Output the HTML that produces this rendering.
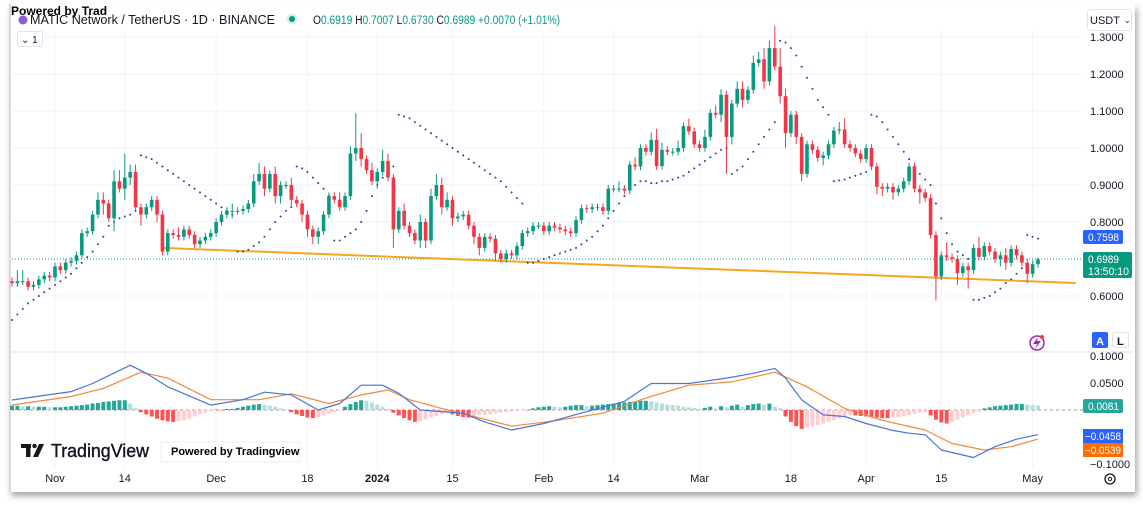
<!DOCTYPE html>
<html><head><meta charset="utf-8">
<style>
html,body{margin:0;padding:0;background:#fff;}
body{width:1143px;height:508px;position:relative;overflow:hidden;font-family:"Liberation Sans",sans-serif;}
#frame{position:absolute;left:9px;top:4px;width:1124px;height:488px;background:#fff;box-shadow:2px 4px 6px rgba(0,0,0,0.35);border-left:2px solid #d8dae0;}
svg{position:absolute;left:0;top:0;}
.t{font-family:"Liberation Sans",sans-serif;}
</style></head>
<body>
<div id="frame"></div>
<svg id="chart" width="1143" height="508" viewBox="0 0 1143 508">
  <g id="grid"></g>
  <line x1="10" y1="352" x2="1133" y2="352" stroke="#e0e3eb" stroke-width="1"/>
  <line x1="12" y1="259" x2="1083" y2="259" stroke="#089981" stroke-width="1" stroke-dasharray="1,2"/>
  <line x1="12" y1="410" x2="1083" y2="410" stroke="#9598a1" stroke-width="1" stroke-dasharray="3,3"/>
  <g id="trend"></g>
  <g id="sar"></g>
  <g id="candles"></g>
  <g id="hist"></g>
  <g id="macdlines"></g>
  <g id="axes"></g>

  <!-- header -->
  <text x="11" y="15" font-size="12" font-weight="bold" fill="#000" class="t">Powered by Trad</text>
  <circle cx="23" cy="20" r="4.5" fill="#8e5bd8"/>
  <text x="30" y="24" font-size="12.5" fill="#131722" class="t" textLength="245" lengthAdjust="spacingAndGlyphs">MATIC Network / TetherUS · 1D · BINANCE</text>
  <circle cx="292" cy="19" r="5.5" fill="#d7efe9"/>
  <circle cx="292" cy="19" r="3" fill="#089981"/>
  <text x="313" y="24" font-size="11.5" fill="#089981" class="t" textLength="247" lengthAdjust="spacingAndGlyphs"><tspan fill="#131722">O</tspan>0.6919 <tspan fill="#131722">H</tspan>0.7007 <tspan fill="#131722">L</tspan>0.6730 <tspan fill="#131722">C</tspan>0.6989 +0.0070 (+1.01%)</text>
  <rect x="17.5" y="31.5" width="25" height="15" rx="2" fill="#fff" stroke="#e0e3eb"/>
  <text x="21" y="43" font-size="10" fill="#131722" class="t">⌄ 1</text>
  <rect x="1087.5" y="9.5" width="44" height="21" rx="3" fill="#fff" stroke="#e0e3eb"/>
  <text x="1090" y="24" font-size="11" fill="#131722" class="t">USDT</text>
  <text x="1124" y="23" font-size="8" fill="#131722" class="t">⌄</text>

  <!-- price labels -->
  <rect x="1083" y="230" width="40" height="14" rx="2" fill="#2962ff"/>
  <text x="1088" y="241" font-size="11" fill="#fff" class="t" textLength="31" lengthAdjust="spacingAndGlyphs">0.7598</text>
  <rect x="1083" y="252" width="49" height="26" rx="2" fill="#089981"/>
  <text x="1088" y="263" font-size="11" fill="#fff" class="t" textLength="31" lengthAdjust="spacingAndGlyphs">0.6989</text>
  <text x="1088" y="275" font-size="11" fill="#fff" class="t" textLength="41" lengthAdjust="spacingAndGlyphs">13:50:10</text>

  <rect x="1083" y="399" width="40" height="14" rx="2" fill="#26a69a"/>
  <text x="1088" y="410" font-size="11" fill="#fff" class="t" textLength="31" lengthAdjust="spacingAndGlyphs">0.0081</text>
  <rect x="1083" y="429" width="40" height="14" fill="#2962ff"/>
  <text x="1085" y="440" font-size="11" fill="#fff" class="t" textLength="36" lengthAdjust="spacingAndGlyphs">−0.0458</text>
  <rect x="1083" y="443" width="40" height="14" fill="#ff6d00"/>
  <text x="1085" y="454" font-size="11" fill="#fff" class="t" textLength="36" lengthAdjust="spacingAndGlyphs">−0.0539</text>

  <rect x="1092" y="332" width="16" height="16" rx="2" fill="#2962ff"/>
  <text x="1096" y="345" font-size="11" font-weight="bold" fill="#fff" class="t">A</text>
  <rect x="1112.5" y="332.5" width="16" height="15" rx="2" fill="#fff" stroke="#e0e3eb"/>
  <text x="1117" y="345" font-size="11" font-weight="bold" fill="#131722" class="t">L</text>
  <circle cx="1037" cy="343" r="7" fill="none" stroke="#9c27b0" stroke-width="1.5"/>
  <polygon points="1038,337 1033,344 1037,344 1035,349 1041,341 1037,341" fill="#9c27b0"/>
  <circle cx="1042" cy="337" r="2" fill="#f23645"/>

  <!-- logo -->
  <rect x="21" y="444" width="10" height="4" fill="#131722"/>
  <rect x="26" y="444" width="4.5" height="13" fill="#131722"/>
  <circle cx="34.5" cy="446" r="2.2" fill="#131722"/>
  <polygon points="39,444 44,444 38,457 33,457" fill="#131722"/>
  <text x="51" y="457" font-size="18" fill="#131722" stroke="#131722" stroke-width="0.4" class="t" textLength="98" lengthAdjust="spacingAndGlyphs">TradingView</text>
  <rect x="161" y="442" width="139" height="20" fill="#fff" stroke="#e0e3eb" stroke-width="0.6"/>
  <text x="171" y="455" font-size="11" font-weight="bold" fill="#000" class="t">Powered by Tradingview</text>

  <circle cx="1110" cy="479" r="5" fill="none" stroke="#131722" stroke-width="1.3"/>
  <circle cx="1110" cy="479" r="1.6" fill="none" stroke="#131722" stroke-width="1"/>
</svg>
<script>
// ---- price data (daily, Oct 24 2023 - May 2 2024) ----
const closes = [
0.635,0.64,0.64,0.625,0.63,0.645,0.655,0.65,0.68,0.67,
0.69,0.695,0.71,0.77,0.775,0.82,0.86,0.85,0.81,0.91,
0.89,0.92,0.935,0.84,0.82,0.84,0.86,0.82,0.72,0.77,
0.765,0.76,0.78,0.765,0.74,0.75,0.76,0.77,0.80,0.82,
0.83,0.83,0.83,0.835,0.85,0.91,0.93,0.89,0.93,0.87,
0.90,0.90,0.86,0.85,0.82,0.78,0.76,0.775,0.82,0.87,
0.86,0.84,0.87,0.985,1.00,0.97,0.94,0.91,0.935,0.965,
0.92,0.78,0.83,0.79,0.77,0.75,0.80,0.75,0.87,0.90,
0.84,0.86,0.81,0.815,0.82,0.79,0.76,0.73,0.76,0.755,
0.715,0.70,0.715,0.71,0.735,0.77,0.775,0.79,0.79,0.775,
0.79,0.785,0.78,
0.775,0.77,0.805,0.837,0.835,0.84,0.84,0.83,0.89,0.89,
0.89,0.885,0.955,0.95,1.00,0.99,1.022,0.951,0.995,0.99,
0.99,1.00,1.059,1.045,1.01,1.00,1.03,1.095,1.09,1.144,
1.03,1.12,1.16,1.13,1.157,1.23,1.24,1.18,1.27,1.22,
1.14,1.04,1.09,1.03,0.93,1.01,0.995,0.973,0.98,1.01,
1.047,1.05,1.01,1.00,0.985,0.97,1.00,0.95,0.895,0.89,
0.895,0.88,0.89,0.91,0.95,0.89,0.88,0.865,0.765,0.653,
0.71,0.705,0.70,0.662,0.68,0.67,0.73,0.706,0.735,0.72,
0.70,0.71,0.69,0.727,0.71,0.69,0.66,0.686,0.6989];
const firstOpen = 0.64;
// wick extensions beyond the body (price units)
const wickUp = [
0.01,0.03,0.03,0.01,0.01,0.01,0.01,0.01,0.01,0.01,
0.01,0.01,0.01,0.01,0.01,0.01,0.02,0.02,0.01,0.03,
0.03,0.065,0.02,0.02,0.01,0.01,0.01,0.01,0.01,0.01,
0.01,0.02,0.01,0.01,0.01,0.01,0.01,0.01,0.01,0.01,
0.01,0.02,0.01,0.01,0.01,0.02,0.03,0.02,0.01,0.02,
0.01,0.01,0.02,0.01,0.01,0.01,0.01,0.01,0.01,0.01,
0.01,0.02,0.01,0.02,0.094,0.04,0.01,0.02,0.01,0.03,
0.02,0.01,0.01,0.02,0.01,0.01,0.02,0.01,0.02,0.03,
0.02,0.02,0.01,0.01,0.01,0.01,0.01,0.01,0.01,0.01,
0.01,0.01,0.01,0.01,0.01,0.01,0.01,0.01,0.01,0.01,
0.01,0.01,0.01,
0.01,0.01,0.01,0.01,0.01,0.01,0.01,0.01,0.01,0.01,
0.02,0.01,0.01,0.02,0.01,0.01,0.02,0.03,0.02,0.01,
0.01,0.02,0.01,0.02,0.01,0.01,0.02,0.01,0.02,0.015,
0.01,0.01,0.02,0.02,0.01,0.02,0.02,0.03,0.02,0.06,
0.05,0.02,0.01,0.01,0.01,0.01,0.01,0.01,0.01,0.01,
0.01,0.02,0.03,0.01,0.01,0.01,0.01,0.01,0.01,0.01,
0.01,0.01,0.01,0.01,0.01,0.01,0.01,0.01,0.01,0.01,
0.01,0.035,0.01,0.01,0.01,0.01,0.01,0.03,0.01,0.01,
0.01,0.01,0.02,0.01,0.01,0.01,0.01,0.01,0.005];
const wickDn = [
0.01,0.01,0.01,0.01,0.01,0.01,0.01,0.01,0.01,0.01,
0.01,0.01,0.01,0.01,0.01,0.01,0.01,0.03,0.01,0.035,
0.01,0.03,0.02,0.01,0.03,0.01,0.01,0.02,0.01,0.01,
0.01,0.01,0.01,0.01,0.01,0.01,0.01,0.01,0.01,0.01,
0.01,0.02,0.01,0.01,0.01,0.01,0.01,0.02,0.01,0.02,
0.02,0.01,0.02,0.01,0.02,0.02,0.02,0.02,0.01,0.01,
0.01,0.01,0.01,0.01,0.02,0.02,0.01,0.01,0.02,0.01,
0.01,0.05,0.01,0.01,0.01,0.01,0.02,0.02,0.01,0.01,
0.02,0.01,0.02,0.01,0.01,0.01,0.02,0.02,0.01,0.01,
0.02,0.01,0.01,0.01,0.01,0.01,0.01,0.01,0.01,0.01,
0.01,0.01,0.01,
0.01,0.01,0.01,0.01,0.01,0.01,0.01,0.01,0.01,0.01,
0.01,0.01,0.01,0.01,0.01,0.01,0.01,0.01,0.01,0.01,
0.01,0.01,0.01,0.01,0.01,0.01,0.01,0.01,0.01,0.02,
0.10,0.02,0.01,0.02,0.01,0.01,0.01,0.02,0.01,0.01,
0.02,0.04,0.01,0.02,0.02,0.01,0.01,0.01,0.02,0.01,
0.01,0.01,0.01,0.01,0.01,0.01,0.01,0.01,0.02,0.02,
0.01,0.02,0.01,0.01,0.01,0.01,0.03,0.01,0.01,0.065,
0.01,0.01,0.01,0.032,0.01,0.05,0.01,0.01,0.01,0.01,
0.01,0.02,0.02,0.01,0.01,0.01,0.025,0.01,0.01];
// Parabolic SAR per candle
const sarVals = [
0.535,0.55,0.565,0.58,0.59,0.60,0.61,0.62,0.63,0.64,0.65,0.66,0.675,0.69,0.705,0.72,0.74,0.76,0.79,0.80,0.81,0.815,0.82,0.83,
0.98,0.975,0.97,0.96,0.95,0.94,0.93,0.92,0.91,0.90,0.89,0.88,0.87,0.86,0.85,0.84,0.83,0.82,
0.72,0.72,0.725,0.735,0.745,0.76,0.78,0.80,0.815,0.83,0.84,
0.95,0.945,0.935,0.92,0.905,0.89,0.87,
0.75,0.75,0.76,0.77,0.78,0.80,0.83,0.87,0.90,0.92,0.94,0.95,
1.09,1.085,1.08,1.07,1.06,1.05,1.04,1.03,1.02,1.01,1.00,0.99,0.98,0.97,0.96,0.95,0.94,0.93,0.92,0.91,0.895,0.88,0.865,0.85,
0.69,0.69,0.695,0.70,0.705,0.71,0.715,
0.72,0.725,0.73,0.74,0.75,0.76,0.775,0.79,0.81,0.83,0.85,0.87,0.89,0.90,0.91,0.91,
0.905,0.905,0.91,0.91,0.915,0.92,0.925,0.935,0.945,0.955,0.965,0.975,0.985,0.995,1.0,
0.93,0.94,0.95,0.97,0.99,1.01,1.03,1.05,1.07,
1.29,1.285,1.27,1.25,1.22,1.19,1.16,1.13,1.11,1.09,
0.91,0.912,0.915,0.92,0.925,0.93,0.935,
1.09,1.085,1.07,1.05,1.03,1.01,0.99,0.97,0.95,0.93,0.915,0.90,0.85,0.81,0.77,0.74,0.72,0.71,0.70,
0.59,0.59,0.595,0.60,0.61,0.62,0.635,0.645,0.66,0.675,
0.765,0.76,0.755];
// MACD histogram per candle
const histVals = [
0.008,0.008,0.007,0.007,0.006,0.006,0.006,0.005,0.005,0.005,0.006,0.007,
0.008,0.009,0.010,0.012,0.013,0.015,0.016,0.017,0.018,0.018,
0.012,0.004,
-0.004,-0.008,-0.012,-0.016,-0.019,-0.021,-0.022,
-0.021,-0.019,-0.016,-0.012,-0.008,-0.005,-0.002,
0.001,-0.001,0.002,0.002,0.004,0.006,
0.008,0.010,0.011,0.010,
0.008,0.006,0.003,0.001,
-0.004,-0.008,-0.011,-0.014,-0.015,-0.013,
-0.010,-0.007,-0.004,-0.001,
0.006,0.011,0.015,0.018,0.017,
0.014,0.010,0.006,0.002,
-0.005,-0.010,-0.015,-0.019,-0.022,-0.021,-0.018,
-0.014,-0.011,-0.008,-0.006,
-0.008,-0.011,-0.013,-0.014,-0.012,-0.010,
-0.009,-0.008,-0.006,-0.005,-0.004,-0.003,-0.002,-0.001,-0.001,
0.003,0.005,0.006,0.007,0.006,
0.005,0.006,0.008,0.009,0.009,
0.007,0.008,0.009,0.010,0.011,0.012,0.013,0.014,0.015,0.016,0.017,0.017,0.016,
0.014,0.012,0.010,0.009,0.008,0.006,0.005,0.004,0.002,
0.004,0.006,0.003,0.007,0.005,0.008,0.010,0.006,0.009,0.011,0.012,0.010,0.012,
0.006,0.003,
-0.012,-0.022,-0.030,-0.035,
-0.032,-0.030,-0.028,-0.025,-0.022,-0.019,-0.016,-0.013,-0.010,
-0.010,-0.011,-0.012,-0.013,-0.014,-0.015,-0.015,-0.014,-0.013,
-0.011,-0.009,-0.007,-0.005,-0.004,
-0.010,-0.018,-0.023,-0.025,
-0.022,-0.018,-0.014,-0.010,-0.006,-0.003,
0.003,0.005,0.007,0.008,0.009,0.010,0.011,0.011,0.010,0.009,0.0081];
// MACD & signal lines (sampled candle index -> value)
const macdDays = [0,11,15,22,25,29,37,43,47,52,57,61,65,69,72,76,80,84,88,93,99,107,114,119,126,133,138,142,144,147,151,155,159,164,167,170,173,179,183,187,191];
const macdValues = [0.0185,0.034,0.049,0.083,0.068,0.043,0.009,0.019,0.033,0.028,0.0,0.012,0.046,0.046,0.031,0.0,-0.003,-0.006,-0.022,-0.037,-0.025,-0.003,0.016,0.049,0.049,0.059,0.068,0.077,0.059,0.019,-0.009,-0.012,-0.025,-0.038,-0.043,-0.046,-0.074,-0.088,-0.068,-0.054,-0.0458];
const signalDays = [0,11,17,24,29,37,46,52,59,65,70,74,80,86,93,101,110,118,126,134,142,148,155,162,170,175,181,186,191];
const signalValues = [0.0093,0.025,0.040,0.070,0.059,0.019,0.019,0.030,0.012,0.028,0.037,0.019,0.003,-0.012,-0.030,-0.020,-0.006,0.022,0.046,0.052,0.070,0.043,0.003,-0.019,-0.037,-0.062,-0.074,-0.068,-0.0539];
// trendline anchors
const trendDays = [28, 198];
const trendPrices = [0.730, 0.635];
// axes
const priceTicks = [1.3,1.2,1.1,1.0,0.9,0.8,0.6];
const priceTickLabels = ["1.3000","1.2000","1.1000","1.0000","0.9000","0.8000","0.6000"];
const macdTicks = [0.1,0.05,-0.1];
const macdTickLabels = ["0.1000","0.0500","−0.1000"];
const timeDays = [8,21,38,55,68,82,99,112,128,145,159,173,190];
const timeLabels = ["Nov","14","Dec","18","2024","15","Feb","14","Mar","18","Apr","15","May"];

const NS="http://www.w3.org/2000/svg";
const X0=12, DX=(1038-12)/(closes.length-1);
function xOf(i){return X0+i*DX;}
function yP(p){return 37+(1.3-p)*370;}
function yM(v){return 410-v*540;}
function mk(tag,attrs,parent){const e=document.createElementNS(NS,tag);for(const k in attrs)e.setAttribute(k,attrs[k]);parent.appendChild(e);return e;}

const grid=document.getElementById('grid');
for(let k=0;k<priceTicks.length;k++){
  const l=mk('line',{x1:10,x2:1083,y1:yP(priceTicks[k]),y2:yP(priceTicks[k]),stroke:'#f0f3fa'},grid);
  
  
}
for(let k=0;k<timeDays.length;k++){
  const l=mk('line',{x1:xOf(timeDays[k]),x2:xOf(timeDays[k]),y1:30,y2:468,stroke:'#f0f3fa'},grid);
  
  
}
const axes=document.getElementById('axes');
for(let k=0;k<priceTicks.length;k++){
  const t=mk('text',{x:1090,y:yP(priceTicks[k])+4,'font-size':11,fill:'#131722','font-family':'Liberation Sans, sans-serif'},axes);
  t.textContent=priceTickLabels[k];
  
  
}
for(let k=0;k<macdTicks.length;k++){
  const t=mk('text',{x:1090,y:yM(macdTicks[k])+4,'font-size':11,fill:'#131722','font-family':'Liberation Sans, sans-serif'},axes);
  t.textContent=macdTickLabels[k];
  
  
}
for(let k=0;k<timeDays.length;k++){
  const t=mk('text',{x:xOf(timeDays[k]),y:482,'font-size':11,fill:'#131722','text-anchor':'middle','font-weight':timeLabels[k]==='2024'?'bold':'normal','font-family':'Liberation Sans, sans-serif'},axes);
  t.textContent=timeLabels[k];
  
  
}

// trendline
const tg=document.getElementById('trend');
const tl=mk('line',{x1:xOf(trendDays[0]),y1:yP(trendPrices[0]),x2:xOf(trendDays[1]),y2:yP(trendPrices[1]),stroke:'#f5a623','stroke-width':2},tg);



// SAR
const sg=document.getElementById('sar');
for(let i=0;i<sarVals.length;i++){
  const c=mk('circle',{cx:xOf(i),cy:yP(sarVals[i]),r:1,fill:'#2a3fa0'},sg);
  
  
}

// candles
const cg=document.getElementById('candles');
for(let i=0;i<closes.length;i++){
  const o=i===0?firstOpen:closes[i-1], c=closes[i];
  const hi=Math.max(o,c)+wickUp[i], lo=Math.min(o,c)-wickDn[i];
  const col=c>=o?'#089981':'#f23645';
  const x=xOf(i);
  const w=mk('line',{x1:x,x2:x,y1:yP(hi),y2:yP(lo),stroke:col,'stroke-width':1},cg);
  
  
  const top=yP(Math.max(o,c)), h=Math.max(1,yP(Math.min(o,c))-top);
  const b=mk('rect',{x:x-1.8,y:top,width:3.6,height:h,fill:col},cg);
  
  
}

// histogram
const hg=document.getElementById('hist');
for(let i=0;i<histVals.length;i++){
  const v=histVals[i], pv=i>0?histVals[i-1]:0;
  let col;
  if(v>=0) col=v>=pv?'#26a69a':'#b2dfdb'; else col=v<=pv?'#ff5252':'#ffcdd2';
  const y0=yM(0), y1=yM(v);
  const r=mk('rect',{x:xOf(i)-2,y:Math.min(y0,y1),width:4,height:Math.max(0.5,Math.abs(y1-y0)),fill:col},hg);
  
  
}

// MACD lines
const mg=document.getElementById('macdlines');
function poly(days,vals,color,name){
  let d='';
  for(let k=0;k<days.length;k++) d+=(k?'L':'M')+xOf(days[k]).toFixed(1)+','+yM(vals[k]).toFixed(1);
  const p=mk('path',{d:d,fill:'none',stroke:color,'stroke-width':1.2,'stroke-linejoin':'round'},mg);
  
  
}
poly(signalDays,signalValues,'#f0893a','signal-line');
poly(macdDays,macdValues,'#4a74d8','macd-line');
</script>
</body></html>
